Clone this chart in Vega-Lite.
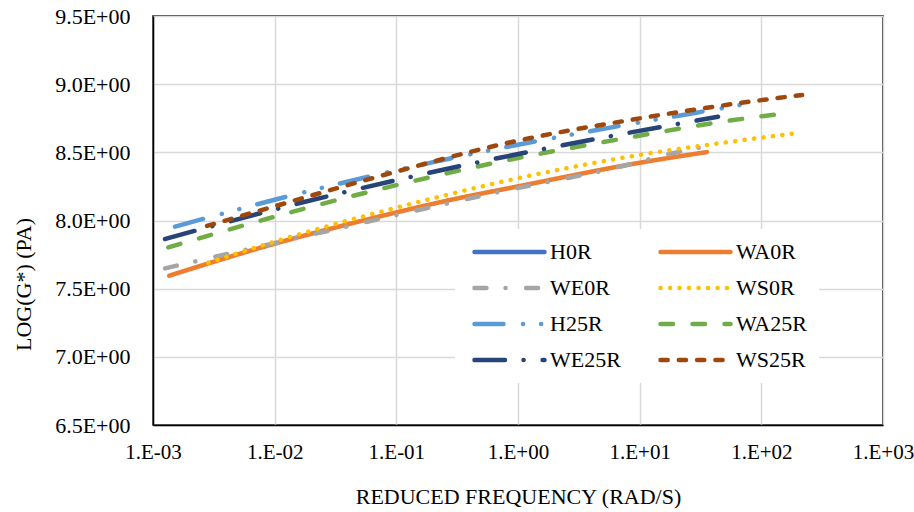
{
  "$schema": "https://vega.github.io/schema/vega-lite/v6.json",
  "width": 730,
  "height": 409,
  "autosize": {"type": "none"},
  "padding": {"left": 153, "top": 16, "right": 31, "bottom": 87},
  "background": "white",
  "config": {"view": {"stroke": "black", "strokeWidth": 1.5}, "font": "Liberation Serif"},
  "data": {"values": [
    {"series": "WA0R", "freq": 0.001361, "logG": 7.595},
    {"series": "WA0R", "freq": 0.00916, "logG": 7.820},
    {"series": "WA0R", "freq": 0.08872, "logG": 8.048},
    {"series": "WA0R", "freq": 0.2761, "logG": 8.150},
    {"series": "WA0R", "freq": 1.038, "logG": 8.253},
    {"series": "WA0R", "freq": 10.07, "logG": 8.424},
    {"series": "WA0R", "freq": 35.73, "logG": 8.502},
    {"series": "WE0R", "freq": 0.001256, "logG": 7.649},
    {"series": "WE0R", "freq": 0.004295, "logG": 7.759},
    {"series": "WE0R", "freq": 0.02931, "logG": 7.930},
    {"series": "WE0R", "freq": 0.1007, "logG": 8.040},
    {"series": "WE0R", "freq": 0.7112, "logG": 8.211},
    {"series": "WE0R", "freq": 7.295, "logG": 8.400},
    {"series": "WE0R", "freq": 16.14, "logG": 8.480},
    {"series": "WE0R", "freq": 43.25, "logG": 8.561},
    {"series": "WS0R", "freq": 0.00285, "logG": 7.690},
    {"series": "WS0R", "freq": 0.00916, "logG": 7.835},
    {"series": "WS0R", "freq": 0.1072, "logG": 8.101},
    {"series": "WS0R", "freq": 0.9099, "logG": 8.302},
    {"series": "WS0R", "freq": 8.810, "logG": 8.473},
    {"series": "WS0R", "freq": 70.63, "logG": 8.590},
    {"series": "WS0R", "freq": 208.0, "logG": 8.644},
    {"series": "H25R", "freq": 0.001517, "logG": 7.955},
    {"series": "H25R", "freq": 0.01416, "logG": 8.187},
    {"series": "H25R", "freq": 0.07345, "logG": 8.341},
    {"series": "H25R", "freq": 0.5152, "logG": 8.505},
    {"series": "H25R", "freq": 1.941, "logG": 8.605},
    {"series": "H25R", "freq": 10.07, "logG": 8.720},
    {"series": "H25R", "freq": 28.51, "logG": 8.789},
    {"series": "H25R", "freq": 74.82, "logG": 8.855},
    {"series": "WA25R", "freq": 0.001337, "logG": 7.803},
    {"series": "WA25R", "freq": 0.01416, "logG": 8.065},
    {"series": "WA25R", "freq": 0.08872, "logG": 8.248},
    {"series": "WA25R", "freq": 0.7112, "logG": 8.431},
    {"series": "WA25R", "freq": 7.980, "logG": 8.607},
    {"series": "WA25R", "freq": 52.24, "logG": 8.730},
    {"series": "WA25R", "freq": 134.6, "logG": 8.779},
    {"series": "WE25R", "freq": 0.001256, "logG": 7.864},
    {"series": "WE25R", "freq": 0.01614, "logG": 8.128},
    {"series": "WE25R", "freq": 0.1072, "logG": 8.302},
    {"series": "WE25R", "freq": 0.7816, "logG": 8.468},
    {"series": "WE25R", "freq": 5.495, "logG": 8.615},
    {"series": "WE25R", "freq": 44.06, "logG": 8.761},
    {"series": "WS25R", "freq": 0.00278, "logG": 7.960},
    {"series": "WS25R", "freq": 0.00968, "logG": 8.101},
    {"series": "WS25R", "freq": 0.08872, "logG": 8.346},
    {"series": "WS25R", "freq": 0.9099, "logG": 8.578},
    {"series": "WS25R", "freq": 8.318, "logG": 8.737},
    {"series": "WS25R", "freq": 66.83, "logG": 8.862},
    {"series": "WS25R", "freq": 216.3, "logG": 8.921}
  ]},
  "mark": {"type": "line", "strokeWidth": 4.5, "strokeCap": "round", "interpolate": "monotone"},
  "encoding": {
    "x": {
      "field": "freq", "type": "quantitative",
      "scale": {"type": "log", "domain": [0.001, 1000], "nice": false},
      "axis": {
        "title": "REDUCED FREQUENCY (RAD/S)",
        "values": [0.001, 0.01, 0.1, 1, 10, 100, 1000],
        "labelExpr": "datum.value < 0.005 ? '1.E-03' : datum.value < 0.05 ? '1.E-02' : datum.value < 0.5 ? '1.E-01' : datum.value < 5 ? '1.E+00' : datum.value < 50 ? '1.E+01' : datum.value < 500 ? '1.E+02' : '1.E+03'",
        "grid": true, "gridColor": "#D9D9D9", "gridWidth": 1.5,
        "ticks": false, "tickSize": 0,
        "domainColor": "black", "domainWidth": 1.5,
        "labelFont": "Liberation Serif", "labelFontSize": 21, "labelColor": "black",
        "labelPadding": 16, "labelFlush": false, "labelOverlap": false,
        "titleFont": "Liberation Serif", "titleFontSize": 22, "titleFontWeight": "normal", "titleColor": "black",
        "titlePadding": 24
      }
    },
    "y": {
      "field": "logG", "type": "quantitative",
      "scale": {"domain": [6.5, 9.5], "nice": false, "zero": false},
      "axis": {
        "title": "LOG(G*) (PA)",
        "values": [6.5, 7, 7.5, 8, 8.5, 9, 9.5],
        "labelExpr": "format(datum.value, '.1f') + 'E+00'",
        "grid": true, "gridColor": "#D9D9D9", "gridWidth": 1.5,
        "ticks": false, "tickSize": 0,
        "domainColor": "black", "domainWidth": 1.5,
        "labelFont": "Liberation Serif", "labelFontSize": 22, "labelColor": "black",
        "labelPadding": 23, "labelOverlap": false,
        "titleFont": "Liberation Serif", "titleFontSize": 22, "titleFontWeight": "normal", "titleColor": "black",
        "titleX": -130, "titleY": 268, "titleBaseline": "middle", "titleAlign": "center"
      }
    },
    "color": {
      "field": "series", "type": "nominal",
      "scale": {
        "domain": ["H0R", "WA0R", "WE0R", "WS0R", "H25R", "WA25R", "WE25R", "WS25R"],
        "range": ["#4472C4", "#ED7D31", "#A5A5A5", "#FFC000", "#5B9BD5", "#70AD47", "#264478", "#9E480E"]
      },
      "legend": {
        "orient": "none", "legendX": 302, "legendY": 213, "columns": 2, "direction": "horizontal", "title": null,
        "fillColor": "white", "padding": 12,
        "symbolType": "M-1,0H19", "symbolSize": 49, "symbolStrokeWidth": 4.5,
        "labelFont": "Liberation Serif", "labelFontSize": 22, "labelColor": "black",
        "labelOffset": 61, "rowPadding": 14, "columnPadding": 30, "labelLimit": 200,
        "encode": {"symbols": {"update": {"strokeCap": {"value": "round"}}}}
      }
    },
    "strokeDash": {
      "field": "series", "type": "nominal",
      "scale": {
        "domain": ["H0R", "WA0R", "WE0R", "WS0R", "H25R", "WA25R", "WE25R", "WS25R"],
        "range": [[1, 0], [1, 0], [12, 19, 0.1, 20.5], [0.1, 9.4], [29, 19.5, 0.1, 18, 0.1, 18.5], [12.5, 19.5], [30.5, 18.5, 0.1, 19], [7.2, 11.1]]
      },
      "legend": {
        "orient": "none", "legendX": 302, "legendY": 213, "columns": 2, "direction": "horizontal", "title": null,
        "fillColor": "white", "padding": 12,
        "symbolType": "M-1,0H19", "symbolSize": 49, "symbolStrokeWidth": 4.5,
        "labelFont": "Liberation Serif", "labelFontSize": 22, "labelColor": "black",
        "labelOffset": 61, "rowPadding": 14, "columnPadding": 30, "labelLimit": 200,
        "encode": {"symbols": {"update": {"strokeCap": {"value": "round"}}}}
      }
    }
  }
}
